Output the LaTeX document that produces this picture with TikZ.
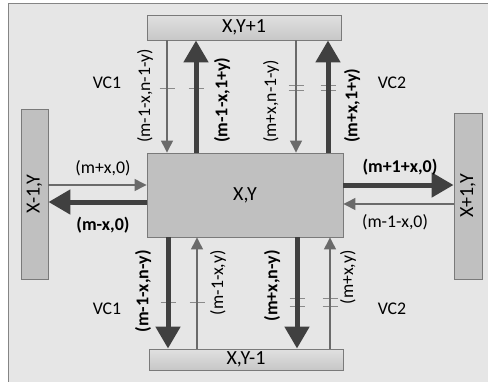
\documentclass[tikz,border=0pt]{standalone}
\usepackage{fontspec}
\setmainfont{Carlito}
\usetikzlibrary{arrows.meta}
\definecolor{bgc}{HTML}{E6E6E6}
\definecolor{framec}{HTML}{858585}
\definecolor{boxc}{HTML}{C0C0C0}
\definecolor{boxline}{HTML}{7A7A7A}
\definecolor{darkarr}{HTML}{404040}
\definecolor{thinarrc}{HTML}{6A6A6A}
\definecolor{tickc}{HTML}{8A8A8A}
\begin{document}
\begin{tikzpicture}[x=1pt,y=-1pt,
  box/.style={draw=boxline, line width=0.9pt, fill=boxc, inner sep=0pt, font=\fontsize{20}{21}\selectfont},
  sbox/.style={draw=boxline, line width=0.9pt, top color=HTML-top, bottom color=HTML-bot, inner sep=0pt, font=\fontsize{20}{21}\selectfont},
  thickarr/.style={line width=5pt, draw=darkarr, -{Triangle[length=22pt,width=24pt]}},
  thinarr/.style={line width=1.3pt, draw=thinarrc, -{Triangle[length=12pt,width=12pt]}},
  tickmark/.style={line width=1pt, draw=tickc},
  lab/.style={font=\fontsize{17.8}{19}\selectfont, inner sep=0pt},
  blab/.style={font=\fontsize{18}{19}\selectfont\bfseries, inner sep=0pt},
]
\colorlet{HTML-top}{black!12}
\colorlet{HTML-bot}{black!22}
\useasboundingbox (0,0) rectangle (488,381);
\fill[white] (0,0) rectangle (488,381);
\draw[framec, fill=bgc, line width=1pt] (8,3.5) rectangle (495,395);

% boxes
\node[box, minimum width=196pt, minimum height=84pt] (C) at (245,195) {X,Y};
\node[sbox, minimum width=194pt, minimum height=25pt] (T) at (244,27.5) {X,Y+1};
\node[sbox, minimum width=194pt, minimum height=21pt] (B) at (246,359.5) {X,Y-1};
\node[box, rotate=90, minimum width=170pt, minimum height=27pt] (L) at (34.5,194) {X-1,Y};
\node[box, rotate=90, minimum width=166pt, minimum height=28pt] (R) at (468,196) {X+1,Y};

% columns / rows
\coordinate (t1) at (167,0);
\coordinate (t2) at (196,0);
\coordinate (t3) at (296,0);
\coordinate (t4) at (328,0);
\coordinate (b1) at (168,0);
\coordinate (b2) at (197,0);
\coordinate (b3) at (297,0);
\coordinate (b4) at (330,0);
\coordinate (r1) at (0,185);
\coordinate (r2) at (0,202);
\coordinate (r3) at (0,204);

% ticks top
\foreach \xx in {167,196}{\draw[tickmark] (\xx-7.5,88) -- (\xx+7.5,88);}
\foreach \xx in {296,328}{\draw[tickmark] (\xx-7.5,85.5) -- (\xx+7.5,85.5); \draw[tickmark] (\xx-7.5,90.5) -- (\xx+7.5,90.5);}
% ticks bottom
\foreach \xx in {168,197}{\draw[tickmark] (\xx-7.5,302.5) -- (\xx+7.5,302.5);}
\foreach \xx in {297,330}{\draw[tickmark] (\xx-7.5,298.5) -- (\xx+7.5,298.5); \draw[tickmark] (\xx-7.5,306) -- (\xx+7.5,306);}

% top arrows
\draw[thinarr] (T.south -| t1) -- (C.north -| t1);
\draw[thickarr] (C.north -| t2) -- (T.south -| t2);
\draw[thinarr] (T.south -| t3) -- (C.north -| t3);
\draw[thickarr] (C.north -| t4) -- (T.south -| t4);
% bottom arrows
\draw[thickarr] (C.south -| b1) -- (B.north -| b1);
\draw[thinarr] (B.north -| b2) -- (C.south -| b2);
\draw[thickarr] (C.south -| b3) -- (B.north -| b3);
\draw[thinarr] (B.north -| b4) -- (C.south -| b4);
% left arrows
\draw[thinarr] (L.south |- r1) -- (C.west |- r1);
\draw[thickarr] (C.west |- r2) -- (L.south |- r2);
% right arrows
\draw[thickarr] (C.east |- r1) -- (R.north |- r1);
\draw[thinarr] (R.north |- r3) -- (C.east |- r3);

% labels
\node[lab] (vc1t) at (107,83) {VC1};
\node[lab] (vc2t) at (392,83) {VC2};
\node[lab] (vc1b) at (107,309) {VC1};
\node[lab] (vc2b) at (392,309) {VC2};
\node[lab, rotate=90, anchor=west] (l1) at (145,143) {(m-1-x,n-1-y)};
\node[blab, rotate=90, anchor=west] (l2) at (222,143) {(m-1-x,1+y)};
\node[lab, rotate=90, anchor=west] (l3) at (271,143) {(m+x,n-1-y)};
\node[blab, rotate=90, anchor=west] (l4) at (352,143) {(m+x,1+y)};
\node[blab, rotate=90, anchor=east] (l5) at (143,250) {(m-1-x,n-y)};
\node[lab, rotate=90, anchor=east] (l6) at (218,250) {(m-1-x,y)};
\node[blab, rotate=90, anchor=east] (l7) at (272,250) {(m+x,n-y)};
\node[lab, rotate=90, anchor=east] (l8) at (348,250) {(m+x,y)};
\node[lab] (h1) at (103,168) {(m+x,0)};
\node[blab] (h2) at (103,225) {(m-x,0)};
\node[blab] (h3) at (400,167) {(m+1+x,0)};
\node[lab] (h4) at (395,222) {(m-1-x,0)};
\end{tikzpicture}
\end{document}
